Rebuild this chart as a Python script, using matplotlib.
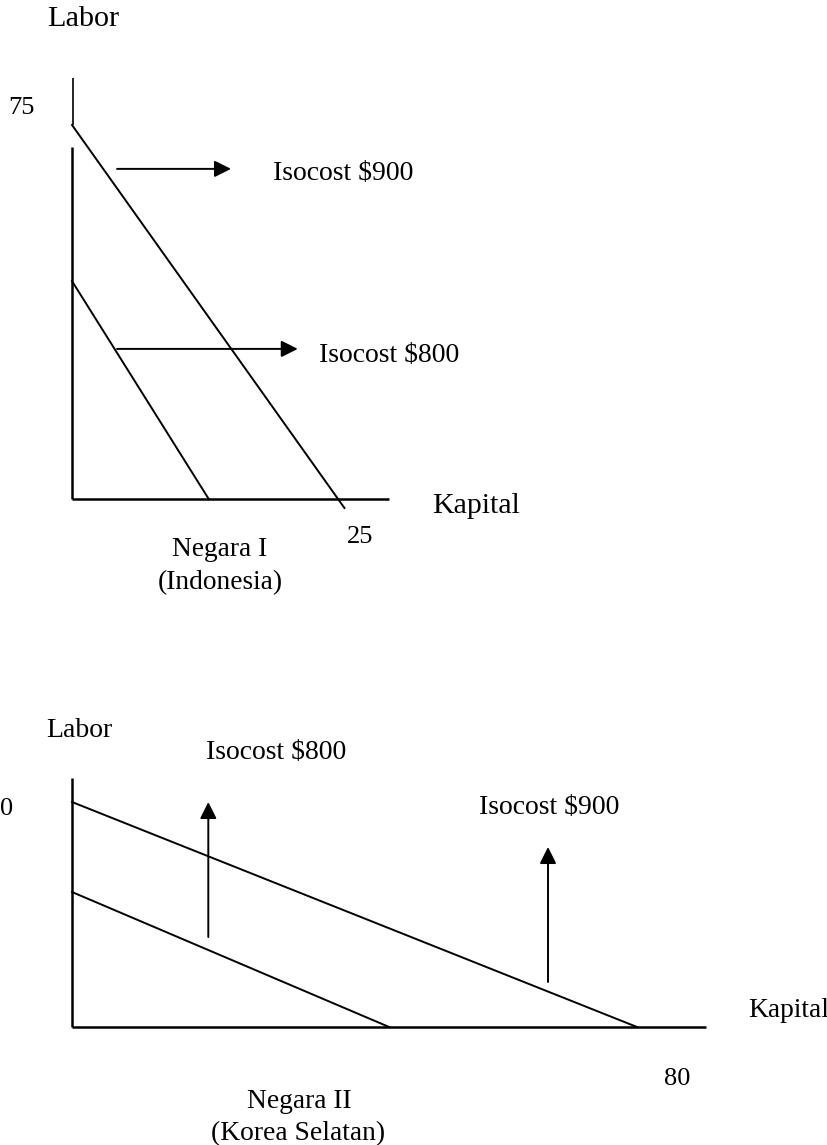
import matplotlib
matplotlib.use("Agg")
import matplotlib.pyplot as plt

plt.rcParams['font.family'] = ['Liberation Serif', 'DejaVu Serif']

# ---------------- data (economic units) ----------------
# Negara I (Indonesia): Labor vs Kapital
top_iso900_K = [0, 25.7]
top_iso900_L = [75, -1.8]
top_iso800_K = [0, 12.9]
top_iso800_L = [43.7, 0]
top_xaxis_K = [0, 29.9]
top_yaxis_lower = [0, 70.6]
top_yaxis_upper = [75, 84.4]
top_arrow_tail = [(4.25, 66.2), (4.25, 30.1)]
top_arrow_tip = [(15.0, 66.2), (21.3, 30.1)]

# Negara II (Korea Selatan)
bot_iso900_K = [0, 80]
bot_iso900_L = [30, 0]
bot_iso800_K = [0, 44.9]
bot_iso800_L = [18, 0]
bot_xaxis_K = [0, 89.8]
bot_yaxis_L = [0, 33.2]
bot_arrow_tail = [(19.3, 12), (67.4, 6)]
bot_arrow_tip = [(19.3, 30), (67.4, 24)]

# ---------------- layout ----------------
W, H = 828, 1145
fig = plt.figure(figsize=(W / 100, H / 100), dpi=100)
fig.patch.set_facecolor('white')


def make_axes(left_px, base_px, sx, sy, xmax, ymax):
    w = xmax * sx
    h = ymax * sy
    ax = fig.add_axes([left_px / W, (H - base_px) / H, w / W, h / H])
    ax.set_xlim(0, xmax)
    ax.set_ylim(0, ymax)
    ax.set_axis_off()
    return ax


def ftext(x, y, s, size, ha='left'):
    fig.text(x / W, 1 - y / H, s, fontsize=size, ha=ha, va='baseline', color='black')


AX_LW = 1.8
LN_LW = 1.4


def arrow(ax, tail, tip):
    ax.annotate('', xy=tip, xytext=tail,
                arrowprops=dict(arrowstyle='-|>,head_length=10,head_width=5',
                                mutation_scale=1, lw=LN_LW, color='black',
                                shrinkA=0, shrinkB=0),
                annotation_clip=False)


# ---- top chart ----
ax1 = make_axes(72, 499, 10.6, 4.9867, 30, 85)
ax1.plot(top_xaxis_K, [0, 0], color='black', lw=AX_LW, clip_on=False, solid_capstyle='butt')
ax1.plot([0, 0], top_yaxis_lower, color='black', lw=AX_LW, clip_on=False, solid_capstyle='butt')
ax1.plot([0.08, 0.08], top_yaxis_upper, color='black', lw=1.2, clip_on=False, solid_capstyle='butt')
ax1.plot(top_iso900_K, top_iso900_L, color='black', lw=LN_LW, clip_on=False)
ax1.plot(top_iso800_K, top_iso800_L, color='black', lw=LN_LW, clip_on=False)
for t, h in zip(top_arrow_tail, top_arrow_tip):
    arrow(ax1, t, h)

ftext(47, 26, 'Labor', 21.8)
ftext(8, 114, '75', 19)
ftext(273, 180, 'Isocost $900', 20)
ftext(319, 362, 'Isocost $800', 20)
ftext(432, 513, 'Kapital', 21.5)
ftext(347, 543, '25', 19)
ftext(220, 556, 'Negara I', 19.7, ha='center')
ftext(220, 589, '(Indonesia)', 19.7, ha='center')

# ---- bottom chart ----
ax2 = make_axes(72, 1027, 7.0625, 7.5, 90, 34)
ax2.plot(bot_xaxis_K, [0, 0], color='black', lw=AX_LW, clip_on=False, solid_capstyle='butt')
ax2.plot([0, 0], bot_yaxis_L, color='black', lw=AX_LW, clip_on=False, solid_capstyle='butt')
ax2.plot(bot_iso900_K, bot_iso900_L, color='black', lw=LN_LW, clip_on=False)
ax2.plot(bot_iso800_K, bot_iso800_L, color='black', lw=LN_LW, clip_on=False)
for t, h in zip(bot_arrow_tail, bot_arrow_tip):
    arrow(ax2, t, h)

ftext(46, 737, 'Labor', 20)
ftext(206, 759, 'Isocost $800', 20)
ftext(13, 815, '0', 19, ha='right')
ftext(479, 814, 'Isocost $900', 20)
ftext(748, 1017, 'Kapital', 19.8)
ftext(664, 1085, '80', 19)
ftext(299, 1108, 'Negara II', 19.8, ha='center')
ftext(298, 1140, '(Korea Selatan)', 19.8, ha='center')

fig.savefig('out.png', dpi=100, facecolor='white')
